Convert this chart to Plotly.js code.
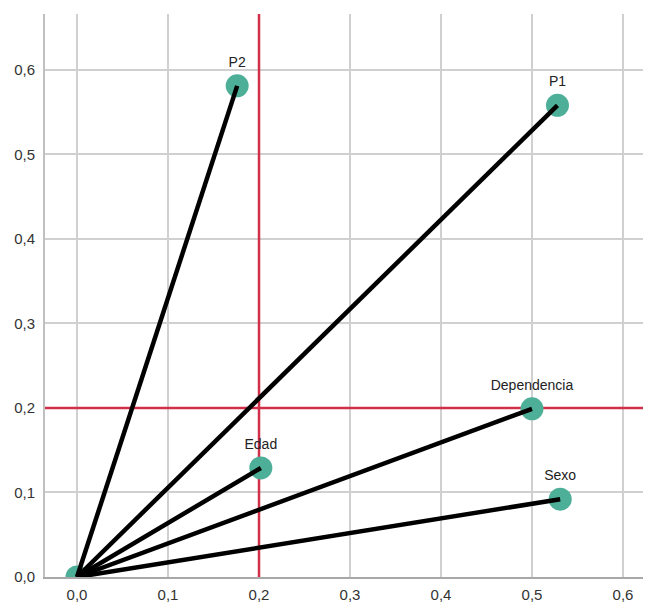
<!DOCTYPE html>
<html>
<head>
<meta charset="utf-8">
<script src="https://cdn.plot.ly/plotly-3.0.1.min.js"></script>
<style>html,body{margin:0;padding:0;background:#fff;}#chart{width:645px;height:602px;}</style>
</head>
<body>
<div id="chart"></div>
<script>
// Data
const labels = ["P2", "P1", "Dependencia", "Edad", "Sexo"];
const xVals = [0.176, 0.528, 0.500, 0.202, 0.531];
const yVals = [0.581, 0.558, 0.199, 0.129, 0.092];
const originX = 0.0;
const originY = 0.0;
const refX = 0.2;
const refY = 0.2;
const xTicks = [0.0, 0.1, 0.2, 0.3, 0.4, 0.5, 0.6];
const yTicks = [0.0, 0.1, 0.2, 0.3, 0.4, 0.5, 0.6];

const teal = "#4daf98";
const traces = [];

traces.push({
  type: "scatter", mode: "markers+text",
  x: [originX].concat(xVals), y: [originY].concat(yVals),
  text: [""].concat(labels), textposition: "top center",
  textfont: {family: "Liberation Sans, Arial, sans-serif", size: 14, color: "#222"},
  marker: {color: teal, size: 23},
  cliponaxis: true, hoverinfo: "skip"
});
for (let i = 0; i < labels.length; i++) {
  traces.push({
    type: "scatter", mode: "lines",
    x: [originX, xVals[i]], y: [originY, yVals[i]],
    line: {color: "#000", width: 4.5},
    hoverinfo: "skip"
  });
}

const layout = {
  width: 645, height: 602,
  margin: {l: 45, r: 2, t: 14, b: 25, pad: 0},
  paper_bgcolor: "#fff", plot_bgcolor: "#fff",
  showlegend: false,
  separators: ",.",
  font: {family: "Liberation Sans, Arial, sans-serif", size: 15, color: "#333"},
  xaxis: {
    range: [-0.0352, 0.622], tickvals: xTicks, tickformat: ".1f",
    showgrid: true, gridcolor: "#d0d0d0", gridwidth: 2,
    zeroline: false, showline: true, linecolor: "#a8a8a8", linewidth: 2,
    ticks: "", ticklabelstandoff: 3
  },
  yaxis: {
    range: [0, 0.666], tickvals: yTicks, tickformat: ".1f",
    showgrid: true, gridcolor: "#d0d0d0", gridwidth: 2,
    zeroline: false, showline: true, linecolor: "#c0c0c0", linewidth: 2,
    ticks: "", ticklabelstandoff: 5
  },
  shapes: [
    {type: "line", layer: "between", xref: "x", yref: "y", x0: refX, x1: refX, y0: 0, y1: 0.666,
     line: {color: "#d2304a", width: 2.5}},
    {type: "line", layer: "between", xref: "x", yref: "y", x0: -0.0352, x1: 0.622, y0: refY, y1: refY,
     line: {color: "#d2304a", width: 2.5}}
  ]
};

Plotly.newPlot("chart", traces, layout, {displayModeBar: false, staticPlot: true});
</script>
</body>
</html>
